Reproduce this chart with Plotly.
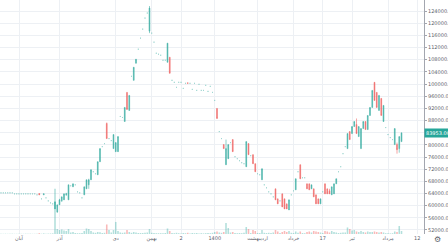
import plotly.graph_objects as go

open_ = [64220,64220,64220,64220,64220,64220,63890,63890,63890,63890,
         63890,63890,63890,63890,63890,63890,63560,64000,62240,63560,
         62570,61580,60920,60590,58940,57950,60260,61580,61910,63560,
         61910,66530,66200,66860,64550,64220,62570,63560,65540,66860,
         68510,71160,70500,70170,74460,79420,80410,87010,82060,81400,
         78760,77770,77770,89330,89000,87680,97250,91310,102540,101220,
         106830,111460,115090,118060,121690,123350,117400,116740,113770,110130,
         109800,109470,107820,107820,107160,108810,101220,100560,98900,100560,
         100560,98570,100230,100400,100230,98240,100230,97910,99900,97910,
         97910,99570,97580,99240,97250,94610,91970,84370,82060,80080,
         73470,75450,80740,81730,76100,75450,74790,74130,73800,72810,
         80410,76440,76770,73800,70500,70170,68510,66860,65870,64550,
         63890,62900,65540,62240,61580,63890,62240,60590,58610,63560,
         64880,65210,71160,73470,69180,69180,67190,67190,65540,65540,
         63560,62240,60590,64550,67190,65540,64880,63560,63890,67190,
         71160,72810,77100,79420,78760,84370,83710,86020,86680,82720,
         78760,85360,87680,85030,89660,92300,100560,97250,91310,95270,
         87680,85690,83380,82390,81730,80080,80080,78760,81070]
high = [64220,64220,64220,64220,64220,64220,63890,63890,63890,63890,
        63890,63890,63890,63890,63890,63890,63560,64000,62240,63890,
        62570,61580,60920,60590,61250,60260,62240,62900,63890,64220,
        66860,66530,67190,66860,64550,64220,62570,66200,68510,68850,
        71820,71160,70500,74460,78760,79420,80410,87350,82060,81400,
        83380,80740,82720,89330,89000,92300,97250,96260,102540,105510,
        108150,111460,115090,118060,121690,123350,125660,116740,113770,110130,
        109800,109470,107820,107820,113440,108810,101220,100560,98900,100560,
        100560,98570,100230,100400,100230,98240,100230,97910,99900,97910,
        97910,99570,97580,99240,97250,94610,91970,84370,82060,80080,
        81730,80080,80740,81730,76100,75450,74790,74130,73800,81070,
        80410,76440,76770,73800,70500,70170,72150,66860,65870,64550,
        63890,62900,65540,62240,61580,63890,62240,60590,61910,63560,
        64880,68850,71160,73470,69180,69180,67190,67190,66860,65540,
        63560,62240,62240,64550,67190,65540,65540,66200,67190,68850,
        71160,72810,77100,79420,83710,84370,86020,87680,88670,86020,
        85360,87680,87680,89660,92300,97910,100560,97250,96260,95270,
        92960,85690,83380,82390,81730,85360,80740,82720,83953]
low = [64220,64220,64220,64220,64220,64220,63890,63890,63890,63890,
       63890,63890,63890,63890,63890,63890,63560,63560,62240,63560,
       62570,61580,60920,60590,58940,57620,60260,61250,61910,63230,
       61910,66530,66200,66860,64550,64220,62570,63560,65540,65540,
       68510,71160,70500,70170,74460,79420,80410,82060,82060,81400,
       78760,77770,77770,89330,89000,87680,91640,91310,102540,101220,
       106830,111460,115090,118060,121690,123350,116740,116740,113770,110130,
       109800,109470,107820,107820,107160,103530,101220,100560,98900,100560,
       100560,98570,100230,100230,100230,98240,100230,97910,99900,97910,
       97910,99570,97580,99240,97250,94610,88670,84370,82060,78760,
       73470,75450,80740,77770,76100,75450,74790,74130,73800,72810,
       76770,76440,73800,71160,70500,70170,68510,66860,65870,64550,
       63890,62900,61910,60590,61580,59600,58940,58940,58610,63560,
       64880,65210,71160,68850,69180,69180,65540,65210,65540,62900,
       60590,60590,60590,64550,63890,63890,63890,63560,63890,67190,
       71160,72810,77100,79420,78760,81730,83710,86020,83710,82720,
       78760,85360,85030,85030,89660,92300,94610,92300,91310,89660,
       87680,85690,83380,82390,81730,80080,77100,77430,81070]
close = [64220,64220,64220,64220,64220,64220,63890,63890,63890,63890,
         63890,63890,63890,63890,63890,63890,63560,63560,62240,63890,
         62570,61580,60920,60590,61250,60260,61910,62900,63890,63890,
         66860,66530,67190,66860,64550,64220,62570,66200,68510,68510,
         71820,71160,70500,74460,78760,79420,80410,82060,82060,81400,
         83380,80740,82720,89330,89000,92300,91640,96260,102540,105510,
         108150,111460,115090,118060,121690,123350,124990,116740,113770,110130,
         109800,109470,107820,107820,113440,103530,101220,100560,98900,100560,
         100560,98570,100230,100230,100230,98240,100230,97910,99900,97910,
         97910,99570,97580,99240,97250,94610,88670,84370,82060,78760,
         78760,80080,80740,77770,76100,75450,74790,74130,73800,81070,
         76770,76440,73800,71160,70500,70170,72150,66860,65870,64550,
         63890,62900,61910,60590,61580,59600,58940,58940,61910,63560,
         64880,68850,71160,68850,69180,69180,65540,65210,66860,62900,
         60590,60590,62240,64550,63890,63890,63890,66200,67190,68850,
         71160,72810,77100,79420,83710,81730,86020,87680,83710,86020,
         85360,87680,85030,89660,92300,97910,94610,92300,96260,89660,
         92960,85690,83380,82390,81730,85360,78430,82720,83953]
volume = [3,2,3,2,2,3,2,2,3,2,2,3,2,3,2,2,3,8,3,6,
          3,4,5,6,450,50,40,45,35,30,50,15,20,10,8,8,10,30,55,50,
          30,15,12,20,18,10,12,95,40,15,40,120,30,15,12,15,40,20,12,20,
          15,10,10,10,12,15,50,12,10,8,8,8,8,10,55,30,10,8,12,8,
          6,10,8,12,6,10,8,10,6,8,6,8,10,8,12,20,25,15,12,20,
          110,60,15,20,10,8,10,8,12,70,50,10,40,30,10,10,40,12,10,12,
          10,15,40,25,10,20,30,20,30,12,10,25,12,25,10,8,20,25,15,30,
          25,20,15,10,30,25,15,30,20,15,10,12,15,15,65,50,35,40,25,20,
          30,20,15,25,20,20,25,20,15,20,15,8,8,6,8,25,20,80,30]

tick_bars = [8, 26, 51, 67, 80, 95, 114, 130, 143, 156, 172, 185]
tick_labels = ["آبان", "آذر", "دی", "بهمن", "2", "1400", "اردیبهشت", "خرداد", "17", "تیر", "مرداد", "12"]
price_ticks = list(range(52000, 128001, 4000))
last_price = close[-1]

n = len(close)
assert len(open_) == n and len(high) == n and len(low) == n and len(volume) == n
idx = list(range(n))

UP = "#26a69a"
DN = "#ef5350"
vol_colors = ["rgba(239,83,80,0.40)" if c < o else "rgba(38,166,154,0.35)" for o, c in zip(open_, close)]

moving = [i for i in idx if not (open_[i] == high[i] == low[i] == close[i])]
flat = [i for i in idx if open_[i] == high[i] == low[i] == close[i]]

def pick(arr, sel):
    return [arr[i] for i in sel]

# the tick label hidden behind the last-price box in the reference
price_ticktext = ["" if abs(v - last_price) < 2000 else f"{v:.2f}" for v in price_ticks]

fig = go.Figure()
fig.add_trace(go.Bar(x=idx, y=volume, marker=dict(color=vol_colors, line=dict(width=0)),
                     yaxis="y", width=0.7, hoverinfo="skip", showlegend=False))
fig.add_trace(go.Candlestick(x=moving, open=pick(open_, moving), high=pick(high, moving),
                             low=pick(low, moving), close=pick(close, moving), yaxis="y2",
                             whiskerwidth=0, opacity=0.85,
                             increasing=dict(line=dict(color=UP, width=0.6), fillcolor=UP),
                             decreasing=dict(line=dict(color=DN, width=0.6), fillcolor=DN),
                             showlegend=False))
fig.add_trace(go.Candlestick(x=flat, open=pick(open_, flat), high=pick(high, flat),
                             low=pick(low, flat), close=pick(close, flat), yaxis="y2",
                             whiskerwidth=0, opacity=0.7,
                             increasing=dict(line=dict(color="#6cc3ba", width=0.8), fillcolor="#6cc3ba"),
                             decreasing=dict(line=dict(color="#6cc3ba", width=0.8), fillcolor="#6cc3ba"),
                             showlegend=False))

ppb = 2.25
r0 = -1 / ppb
r1 = r0 + 424 / ppb
vmax = max(volume)

fig.update_layout(
    width=448, height=242,
    margin=dict(l=0, r=24, t=0, b=8),
    paper_bgcolor="white", plot_bgcolor="white",
    font=dict(family="DejaVu Sans", size=5, color="#5d606b"),
    showlegend=False,
    boxgap=0.5,
    xaxis=dict(range=[r0, r1], tickmode="array", tickvals=tick_bars, ticktext=tick_labels,
               showgrid=True, gridcolor="#edf0f4", gridwidth=1, zeroline=False,
               showline=False, ticks="", tickfont=dict(size=5, color="#5d606b"),
               rangeslider=dict(visible=False), automargin=False),
    yaxis=dict(range=[0, vmax * 233 / 45], visible=False, showgrid=False, zeroline=False),
    yaxis2=dict(overlaying="y", side="right", range=[50680, 127640],
                tickmode="array", tickvals=price_ticks, ticktext=price_ticktext,
                showgrid=True, gridcolor="#edf0f4", gridwidth=1, zeroline=False,
                showline=True, linecolor="#a3a6af", linewidth=1,
                ticks="outside", ticklen=2, tickcolor="#a3a6af",
                tickfont=dict(size=5, color="#5d606b"), automargin=False),
    annotations=[
        dict(x=1, xref="paper", xanchor="left", y=last_price, yref="y2", yanchor="middle",
             text=f"{last_price:.2f}", showarrow=False, bgcolor=UP, borderpad=1,
             font=dict(size=5, color="white")),
        dict(x=437 / 424, xref="paper", xanchor="center", y=-0.022, yref="paper", yanchor="middle",
             text="⚙", showarrow=False, font=dict(size=8, color="#5d606b")),
    ],
)

fig.write_html("out.html")
